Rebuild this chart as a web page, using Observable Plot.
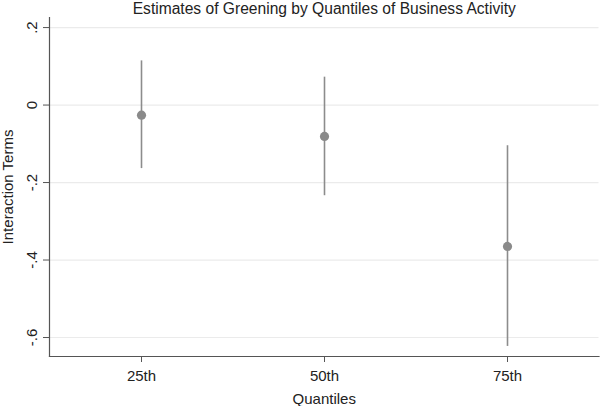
<!DOCTYPE html>
<html>
<head>
<meta charset="utf-8">
<script src="https://cdn.jsdelivr.net/npm/d3@7"></script>
<script src="https://cdn.jsdelivr.net/npm/@observablehq/plot@0.6"></script>
<style>
  html, body { margin: 0; padding: 0; background: #fff; }
  svg { display: block; }
</style>
</head>
<body>
<div id="chart"></div>
<script>
const quantiles = ["25th", "50th", "75th"];
const estimates = [-0.026, -0.081, -0.365];
const lower = [-0.164, -0.234, -0.623];
const upper = [0.114, 0.072, -0.105];
const yTicks = [0.2, 0, -0.2, -0.4, -0.6];
const titleText = "Estimates of Greening by Quantiles of Business Activity";
const xLabel = "Quantiles";
const yLabel = "Interaction Terms";

const rows = quantiles.map((q, i) => ({q, est: estimates[i], lo: lower[i], hi: upper[i]}));
const fmt = d => d === 0 ? "0" : String(d).replace("0.", ".");
const yDomain = [-0.649, 0.226];
const font = "Liberation Sans, Arial, Helvetica, sans-serif";
const axisColor = "#555";

const chart = Plot.plot({
  width: 600,
  height: 406,
  marginLeft: 49,
  marginRight: 1.5,
  marginTop: 17,
  marginBottom: 50,
  style: {fontFamily: font, fontSize: "15px", color: "#222", background: "#fff"},
  x: {type: "point", domain: quantiles, padding: 0.5},
  y: {domain: yDomain},
  marks: [
    Plot.gridY(yTicks, {stroke: "#ebebeb", strokeOpacity: 1, strokeWidth: 1.2}),
    Plot.axisY(yTicks, {tickSize: 6, tickFormat: () => "", label: null, stroke: axisColor}),
    Plot.text(yTicks, {y: d => d, text: fmt, frameAnchor: "left", textAnchor: "middle", lineAnchor: "middle", dx: -17, rotate: -90, fill: "#222", fontSize: 15}),
    Plot.axisX({tickSize: 6, tickPadding: 8, label: null, stroke: axisColor, fill: "#222", fontSize: 15}),
    Plot.frame({anchor: "left", stroke: axisColor, strokeWidth: 1.2}),
    Plot.frame({anchor: "bottom", stroke: axisColor, strokeWidth: 1.2}),
    Plot.ruleX(rows, {x: "q", y1: "lo", y2: "hi", stroke: "#8c8c8c", strokeWidth: 1.6}),
    Plot.dot(rows, {x: "q", y: "est", r: 4.6, fill: "#8a8a8a", stroke: "none"}),
    Plot.text([titleText], {text: d => d, frameAnchor: "top", dy: -9, lineAnchor: "middle", fontSize: 15.6, fill: "#222"}),
    Plot.text([xLabel], {text: d => d, frameAnchor: "bottom", dy: 42.5, lineAnchor: "middle", fontSize: 15, fill: "#222"}),
    Plot.text([yLabel], {text: d => d, frameAnchor: "left", textAnchor: "middle", dx: -41, rotate: -90, lineAnchor: "middle", fontSize: 15, fill: "#222"})
  ]
});
document.getElementById("chart").appendChild(chart);
</script>
</body>
</html>
